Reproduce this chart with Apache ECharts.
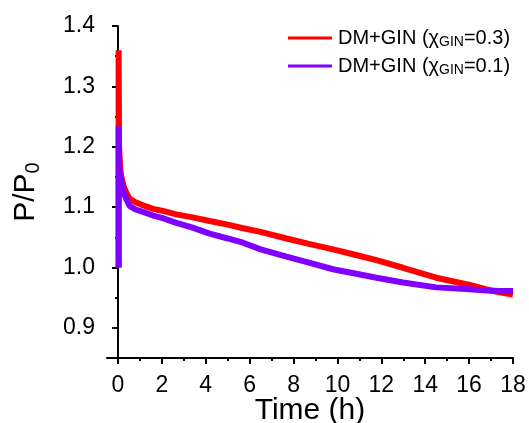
<!DOCTYPE html>
<html>
<head>
<meta charset="utf-8">
<script src="https://cdn.jsdelivr.net/npm/echarts@6/dist/echarts.min.js"></script>
<style>html,body{margin:0;padding:0;background:#fff}#c{width:529px;height:423px}</style>
</head>
<body>
<div id="c"></div>
<script>
const timeRed = [0.03,0.03,0.05,0.1,0.15,0.25,0.38,0.53,0.8,1.14,1.6,2.0,2.66,3.4,4.18,5.0,5.7,6.5,7.68,8.7,9.8,10.8,11.78,12.99,14.5,16.03,16.79,17.4,18.0];
const valRed  = [1.0,1.36,1.2,1.165,1.151,1.135,1.124,1.114,1.108,1.103,1.097,1.094,1.088,1.083,1.077,1.071,1.065,1.059,1.048,1.039,1.030,1.021,1.012,0.9995,0.983,0.971,0.9635,0.959,0.955];
const timePur = [0.03,0.03,0.05,0.1,0.15,0.25,0.38,0.53,0.8,1.14,1.6,2.0,2.66,3.4,4.18,5.0,5.7,6.5,7.68,8.7,9.8,10.8,11.78,12.99,14.5,16.03,16.79,17.4,18.0];
const valPur  = [1.0,1.234,1.17,1.15,1.14,1.125,1.113,1.102,1.096,1.092,1.086,1.082,1.074,1.066,1.056,1.048,1.041,1.030,1.018,1.008,0.997,0.990,0.983,0.975,0.967,0.964,0.962,0.961,0.961];
const xTickLabels = [0,2,4,6,8,10,12,14,16,18];
const yTickLabels = [0.9,1.0,1.1,1.2,1.3,1.4];
const seriesNames = ['red03','pur01'];
const legendLabels = {red03: '{a|DM+GIN (χ}{s|GIN}{a|=0.3)}', pur01: '{a|DM+GIN (χ}{s|GIN}{a|=0.1)}'};

const FONT = '"Liberation Sans", Arial, sans-serif';
const chart = echarts.init(document.getElementById('c'), null, {renderer: 'canvas'});
const axisCommon = {
  axisLine: {show: true, lineStyle: {color: '#000', width: 2}},
  splitLine: {show: false},
  minorTick: {show: true, splitNumber: 2, length: 3, lineStyle: {color: '#000', width: 2}},
};
chart.setOption({
  animation: false,
  backgroundColor: '#fff',
  grid: {left: 107, right: 16, top: 26, bottom: 65, containLabel: false, outerBoundsMode: 'none'},
  legend: {
    left: 288, top: 28, orient: 'vertical', itemGap: 7, padding: 0,
    itemWidth: 44, itemHeight: 3, icon: 'rect',
    data: seriesNames,
    formatter: n => legendLabels[n],
    textStyle: {
      fontFamily: FONT, color: '#000', padding: [0,0,0,1],
      rich: {
        a: {fontFamily: FONT, fontSize: 20, color: '#000', lineHeight: 22},
        s: {fontFamily: FONT, fontSize: 14, color: '#000', lineHeight: 22, verticalAlign: 'bottom', padding: [7,0,0,0]}
      }
    }
  },
  xAxis: Object.assign({}, axisCommon, {
    type: 'value', min: -0.5, max: 18, minInterval: 2, maxInterval: 2, splitNumber: 9,
    axisTick: {show: true, length: 6, customValues: xTickLabels, lineStyle: {color: '#000', width: 2}},
    axisLabel: {customValues: xTickLabels, margin: 16, fontFamily: FONT, fontSize: 23, color: '#000'},
    name: 'Time (h)', nameLocation: 'middle', nameGap: 38, nameMoveOverlap: false,
    nameTextStyle: {fontFamily: FONT, fontSize: 30, color: '#000'}
  }),
  yAxis: Object.assign({}, axisCommon, {
    type: 'value', min: 0.85, max: 1.4, minInterval: 0.1, maxInterval: 0.1, splitNumber: 6,
    axisTick: {show: true, length: 6, customValues: yTickLabels, lineStyle: {color: '#000', width: 2}},
    axisLabel: {customValues: yTickLabels, margin: 12, fontFamily: FONT, fontSize: 23, color: '#000',
      formatter: v => Number(v).toFixed(1)},
    name: '{p|P/P}{s|0}', nameLocation: 'middle', nameGap: 64, nameRotate: 90, nameMoveOverlap: false,
    nameTextStyle: {fontFamily: FONT, color: '#000',
      rich: {p: {fontFamily: FONT, fontSize: 30, color: '#000', lineHeight: 34},
             s: {fontFamily: FONT, fontSize: 20, color: '#000', lineHeight: 34, verticalAlign: 'bottom', padding: [10,0,0,0]}}}
  }),
  series: [
    {name: seriesNames[0], type: 'line', showSymbol: false, symbol: 'none', color: '#ff0000',
     lineStyle: {width: 6, color: '#ff0000'}, data: timeRed.map((t,i) => [t, valRed[i]])},
    {name: seriesNames[1], type: 'line', showSymbol: false, symbol: 'none', color: '#7f00ff',
     lineStyle: {width: 6, color: '#7f00ff'}, data: timePur.map((t,i) => [t, valPur[i]])}
  ]
});
</script>
</body>
</html>
